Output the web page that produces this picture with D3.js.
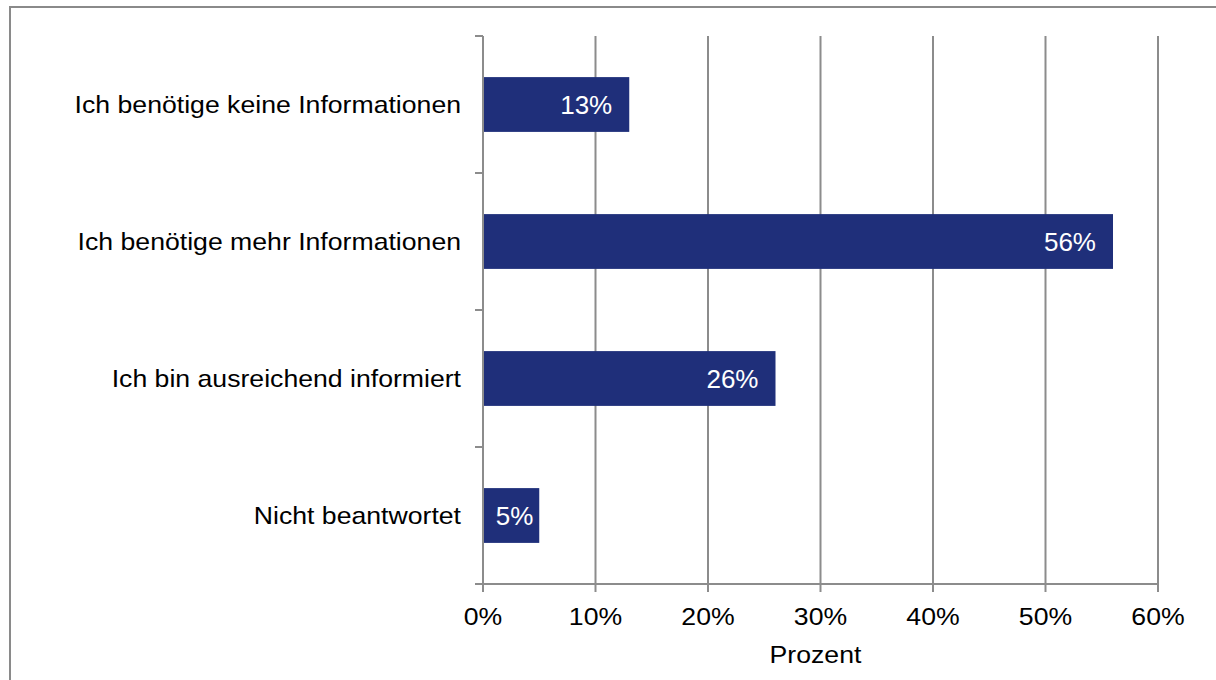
<!DOCTYPE html>
<html>
<head>
<meta charset="utf-8">
<script src="https://cdn.jsdelivr.net/npm/d3@7"></script>
<style>
  html, body { margin: 0; padding: 0; background: #fff; }
  svg { display: block; }
  text { font-family: "Liberation Sans", Arial, sans-serif; fill: #000; }
</style>
</head>
<body>
<svg id="chart" width="1216" height="680"></svg>
<script>
// Survey answers and their shares (percent)
const categories = [
  "Ich benötige keine Informationen",
  "Ich benötige mehr Informationen",
  "Ich bin ausreichend informiert",
  "Nicht beantwortet"
];
const values = [13, 56, 26, 5];
const xTicks = [0, 10, 20, 30, 40, 50, 60];
const xTitle = "Prozent";

const svg = d3.select("#chart");
const W = 1216, H = 680;
const plot = { left: 483, right: 1158, top: 36, bottom: 584 };
const gridColor = "#8c8c8c";
const barColor = "#1f2f7a";
const fontSize = 24;
const stretch = 1.11;   // slightly wide lettering

// outer frame
svg.append("rect")
  .attr("x", 10).attr("y", 7)
  .attr("width", W).attr("height", H)
  .attr("fill", "none")
  .attr("stroke", "#8a8a8a")
  .attr("stroke-width", 2);

const x = d3.scaleLinear().domain([0, 60]).range([plot.left, plot.right]);
const y = d3.scaleBand().domain(categories).range([plot.top, plot.bottom]).paddingInner(0.6).paddingOuter(0.3);

// vertical gridlines
svg.append("g").selectAll("line")
  .data(xTicks.filter(d => d > 0))
  .join("line")
  .attr("x1", d => x(d)).attr("x2", d => x(d))
  .attr("y1", plot.top).attr("y2", plot.bottom)
  .attr("stroke", gridColor).attr("stroke-width", 2);

// bars
svg.append("g").selectAll("rect")
  .data(values)
  .join("rect")
  .attr("x", x(0))
  .attr("y", (d, i) => y(categories[i]))
  .attr("width", d => x(d) - x(0))
  .attr("height", y.bandwidth())
  .attr("fill", barColor);

// value labels inside the bars, near the bar end
const valueLabels = svg.append("g").selectAll("text")
  .data(values)
  .join("text")
  .attr("text-anchor", "end")
  .style("fill", "#fff")
  .style("font-size", "26px")
  .text(d => d + "%");
valueLabels.each(function (d, i) {
  const w = this.getComputedTextLength();
  let end = x(d) - 17;
  if (end - w < x(0) + 8) end = x(d) - 6;   // short bars: tuck the label tighter
  d3.select(this)
    .attr("x", end)
    .attr("y", y(categories[i]) + y.bandwidth() / 2 + 9.8);
});

// y axis line and band ticks
const bandEdges = d3.range(categories.length + 1).map(i => plot.top + i * (plot.bottom - plot.top) / categories.length);
svg.append("line")
  .attr("x1", plot.left).attr("x2", plot.left)
  .attr("y1", plot.top).attr("y2", plot.bottom)
  .attr("stroke", gridColor).attr("stroke-width", 2);
svg.append("g").selectAll("line")
  .data(bandEdges)
  .join("line")
  .attr("x1", plot.left - 8).attr("x2", plot.left)
  .attr("y1", d => d).attr("y2", d => d)
  .attr("stroke", gridColor).attr("stroke-width", 2);

// category labels
svg.append("g").selectAll("text")
  .data(categories)
  .join("text")
  .attr("transform", d => `translate(${plot.left - 22},${y(d) + y.bandwidth() / 2 + 8.8}) scale(${stretch},1)`)
  .attr("text-anchor", "end")
  .style("font-size", fontSize + "px")
  .text(d => d);

// x axis line and ticks
svg.append("line")
  .attr("x1", plot.left - 8).attr("x2", plot.right)
  .attr("y1", plot.bottom).attr("y2", plot.bottom)
  .attr("stroke", gridColor).attr("stroke-width", 2);
svg.append("g").selectAll("line")
  .data(xTicks)
  .join("line")
  .attr("x1", d => x(d)).attr("x2", d => x(d))
  .attr("y1", plot.bottom).attr("y2", plot.bottom + 8)
  .attr("stroke", gridColor).attr("stroke-width", 2);

// x tick labels
svg.append("g").selectAll("text")
  .data(xTicks)
  .join("text")
  .attr("transform", d => `translate(${x(d)},${625}) scale(${stretch},1)`)
  .attr("text-anchor", "middle")
  .style("font-size", fontSize + "px")
  .text(d => d + "%");

// x axis title
svg.append("text")
  .attr("transform", `translate(${(plot.left + plot.right) / 2 - 5},${663}) scale(${stretch},1)`)
  .attr("text-anchor", "middle")
  .style("font-size", fontSize + "px")
  .text(xTitle);
</script>
</body>
</html>
